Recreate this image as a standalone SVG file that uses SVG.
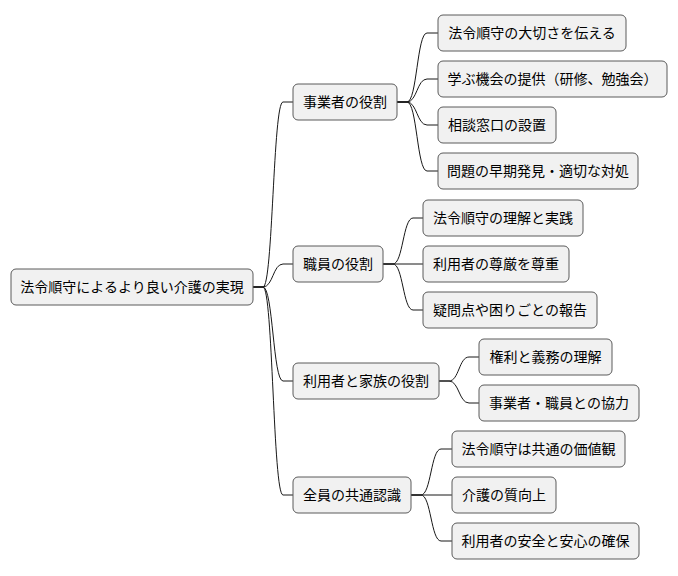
<svg xmlns="http://www.w3.org/2000/svg" width="678" height="576" viewBox="0 0 678 576">
<style>
.n rect{fill:#f1f1f1;stroke:#5a5a5a;stroke-width:1}
.n text{font-family:"Noto Sans CJK JP","Noto Sans",sans-serif;font-size:14px;fill:#000;text-anchor:middle}
.e path{fill:none;stroke:#181818;stroke-width:1}
</style>
<rect width="678" height="576" fill="#fff"/>
<g class="e">
<path d="M253,287 L263,287 C273,287 273,102 283,102 L293,102"/>
<path d="M253,287 L263,287 C273,287 273,264 283,264 L293,264"/>
<path d="M253,287 L263,287 C273,287 273,381 283,381 L293,381"/>
<path d="M253,287 L263,287 C273,287 273,495 283,495 L293,495"/>
<path d="M397,102 L407,102 C417,102 417,33 427,33 L438,33"/>
<path d="M397,102 L407,102 C417,102 417,79 427,79 L438,79"/>
<path d="M397,102 L407,102 C417,102 417,125 427,125 L438,125"/>
<path d="M397,102 L407,102 C417,102 417,171 427,171 L438,171"/>
<path d="M383,264 L393,264 C403,264 403,218 413,218 L423,218"/>
<path d="M383,264 L423,264"/>
<path d="M383,264 L393,264 C403,264 403,310 413,310 L423,310"/>
<path d="M439,381 L449,381 C459,381 459,357 469,357 L479,357"/>
<path d="M439,381 L449,381 C459,381 459,403 469,403 L479,403"/>
<path d="M411,495 L421,495 C431,495 431,449 441,449 L452,449"/>
<path d="M411,495 L452,495"/>
<path d="M411,495 L421,495 C431,495 431,541 441,541 L452,541"/>
</g>
<g id="root" class="n"><rect x="11" y="269" width="242" height="36" rx="5"/><text x="132" y="292">法令順守によるより良い介護の実現</text></g>
<g id="a" class="n"><rect x="293" y="84" width="104" height="36" rx="5"/><text x="345" y="107">事業者の役割</text></g>
<g id="b" class="n"><rect x="293" y="246" width="90" height="36" rx="5"/><text x="338" y="269">職員の役割</text></g>
<g id="c" class="n"><rect x="293" y="363" width="146" height="36" rx="5"/><text x="366" y="386">利用者と家族の役割</text></g>
<g id="d" class="n"><rect x="293" y="477" width="118" height="36" rx="5"/><text x="352" y="500">全員の共通認識</text></g>
<g id="a1" class="n"><rect x="438" y="15" width="188" height="36" rx="5"/><text x="532" y="38">法令順守の大切さを伝える</text></g>
<g id="a2" class="n"><rect x="438" y="61" width="229" height="36" rx="5"/><text x="552.5" y="84">学ぶ機会の提供（研修、勉強会）</text></g>
<g id="a3" class="n"><rect x="438" y="107" width="118" height="36" rx="5"/><text x="497" y="130">相談窓口の設置</text></g>
<g id="a4" class="n"><rect x="438" y="153" width="200" height="36" rx="5"/><text x="538" y="176">問題の早期発見・適切な対処</text></g>
<g id="b1" class="n"><rect x="423" y="200" width="160" height="36" rx="5"/><text x="503" y="223">法令順守の理解と実践</text></g>
<g id="b2" class="n"><rect x="423" y="246" width="146" height="36" rx="5"/><text x="496" y="269">利用者の尊厳を尊重</text></g>
<g id="b3" class="n"><rect x="423" y="292" width="174" height="36" rx="5"/><text x="510" y="315">疑問点や困りごとの報告</text></g>
<g id="c1" class="n"><rect x="479" y="339" width="133" height="36" rx="5"/><text x="545.5" y="362">権利と義務の理解</text></g>
<g id="c2" class="n"><rect x="479" y="385" width="160" height="36" rx="5"/><text x="559" y="408">事業者・職員との協力</text></g>
<g id="d1" class="n"><rect x="452" y="431" width="173" height="36" rx="5"/><text x="538.5" y="454">法令順守は共通の価値観</text></g>
<g id="d2" class="n"><rect x="452" y="477" width="104" height="36" rx="5"/><text x="504" y="500">介護の質向上</text></g>
<g id="d3" class="n"><rect x="452" y="523" width="187" height="36" rx="5"/><text x="545.5" y="546">利用者の安全と安心の確保</text></g>
</svg>
